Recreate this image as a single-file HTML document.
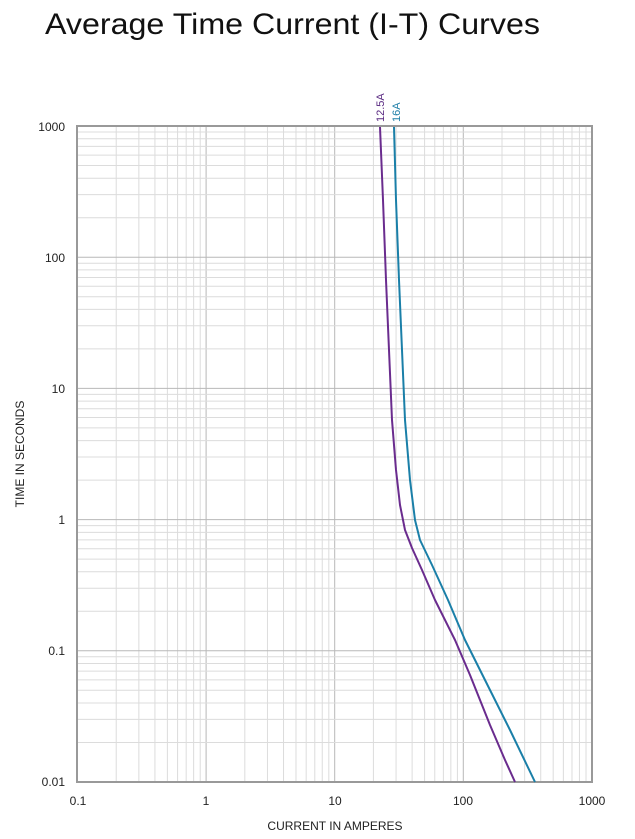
<!DOCTYPE html>
<html><head><meta charset="utf-8"><style>
body{margin:0;background:#fff;width:635px;height:839px;overflow:hidden}
svg{display:block}
text{font-family:"Liberation Sans",sans-serif}
</style></head><body>
<svg width="635" height="839" xmlns="http://www.w3.org/2000/svg">
<text x="45" y="34" font-size="30" fill="#111" textLength="495" lengthAdjust="spacingAndGlyphs">Average Time Current (I-T) Curves</text>
<g id="grid"></g>
<rect x="77" y="126" width="515" height="656" fill="none" stroke="#999" stroke-width="2"/>
<g font-size="12" fill="#222">
<text x="65" y="131" text-anchor="end">1000</text>
<text x="65" y="262" text-anchor="end">100</text>
<text x="65" y="393" text-anchor="end">10</text>
<text x="65" y="524" text-anchor="end">1</text>
<text x="65" y="655" text-anchor="end">0.1</text>
<text x="65" y="786" text-anchor="end">0.01</text>
<text x="78" y="805" text-anchor="middle">0.1</text>
<text x="206" y="805" text-anchor="middle">1</text>
<text x="335" y="805" text-anchor="middle">10</text>
<text x="463" y="805" text-anchor="middle">100</text>
<text x="592" y="805" text-anchor="middle">1000</text>
</g>
<text x="335" y="830" font-size="12" text-anchor="middle" fill="#222">CURRENT  IN AMPERES</text>
<text transform="translate(24,454) rotate(-90)" font-size="12" text-anchor="middle" fill="#222">TIME IN SECONDS</text>
<text transform="translate(384,122) rotate(-90)" font-size="11" fill="#5a2a82">12.5A</text>
<text transform="translate(400,122) rotate(-90)" font-size="11" fill="#1f7fa8">16A</text>
<path d="M380,127 L383,200 L386,280 L389,350 L392,420 L396,470 L400,505 L405,530 L412,548 L422,570 L435,600 L455,640 L470,675 L490,725 L505,760 L515,782" fill="none" stroke="#6a2c8e" stroke-width="2" stroke-linejoin="round"/>
<path d="M394,127 L396,200 L399,280 L402,350 L405,420 L410,480 L415,520 L420,540 L432,565 L448,600 L465,640 L485,680 L510,730 L535,782" fill="none" stroke="#1a7fa8" stroke-width="2" stroke-linejoin="round"/>
</svg>
<script>
var g=document.getElementById('grid'),s='';
var x0=77.5,xd=128.6,y0=782,yd=131.2;
for(var d=0;d<4;d++)for(var k=1;k<10;k++){var x=x0+xd*(d+Math.log10(k));s+='<line x1="'+x+'" y1="126" x2="'+x+'" y2="782" stroke="'+(k==1?'#b8b8b8':'#dcdcdc')+'" stroke-width="1"/>';}
for(var d=0;d<5;d++)for(var k=1;k<10;k++){var y=y0-yd*(d+Math.log10(k));s+='<line x1="77" y1="'+y+'" x2="592" y2="'+y+'" stroke="'+(k==1?'#b8b8b8':'#dcdcdc')+'" stroke-width="1"/>';}
g.innerHTML=s;
</script>
</body></html>
